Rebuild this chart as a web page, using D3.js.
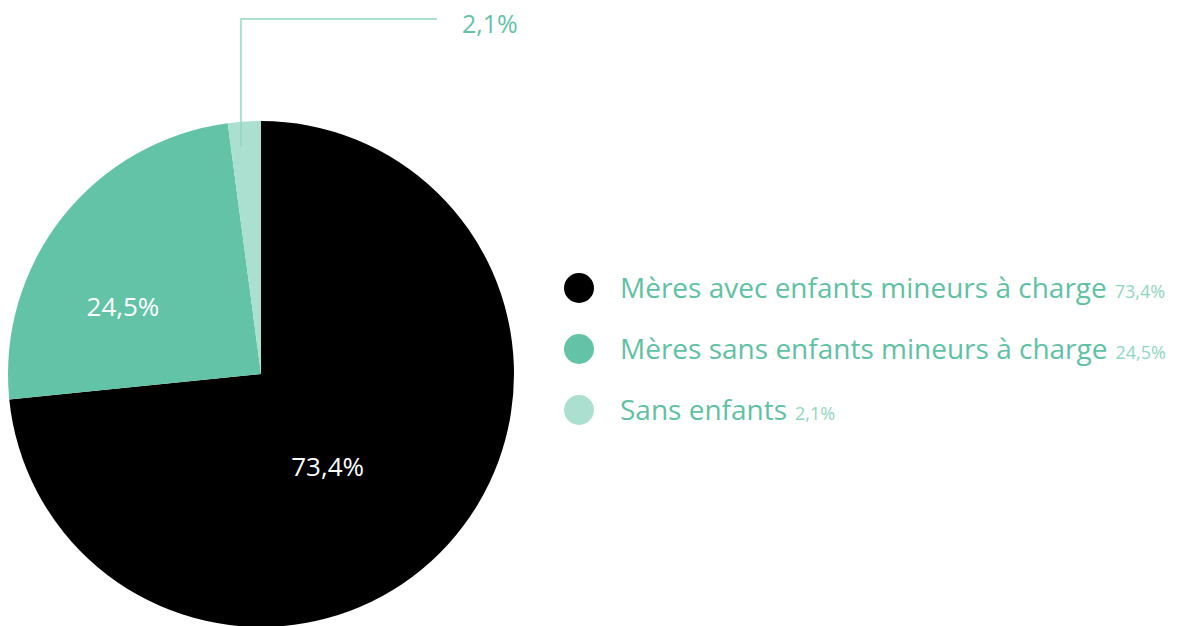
<!DOCTYPE html>
<html lang="fr">
<head>
<meta charset="utf-8">
<script src="https://cdn.jsdelivr.net/npm/d3@7"></script>
<style>
  html, body { margin: 0; padding: 0; background: #fff; }
  svg { display: block; font-family: "Open Sans", "Noto Sans", sans-serif; }
</style>
</head>
<body>
<svg id="chart" width="1181" height="626"></svg>
<script>
// Répartition des femmes selon la situation familiale (%)
const categories = [
  "Mères avec enfants mineurs à charge",
  "Mères sans enfants mineurs à charge",
  "Sans enfants"
];
const values = [73.4, 24.5, 2.1];
const valueLabels = ["73,4%", "24,5%", "2,1%"];
const colors = ["#000000", "#62c3a7", "#abdfcf"];

const W = 1181, H = 626;
const cx = 261, cy = 374, R = 253;

const svg = d3.select("#chart");

const data = categories.map((c, i) => ({ name: c, value: values[i], label: valueLabels[i], color: colors[i] }));

const pie = d3.pie().sort(null).value(d => d.value).startAngle(0).endAngle(2 * Math.PI);
const arcs = pie(data);
const arc = d3.arc().innerRadius(0).outerRadius(R);
const labelArc = d3.arc().innerRadius(R * 0.6).outerRadius(R * 0.6);

const g = svg.append("g").attr("transform", `translate(${cx},${cy})`);

g.selectAll("path.slice")
  .data(arcs)
  .join("path")
  .attr("class", "slice")
  .attr("d", arc)
  .attr("fill", d => d.data.color);

// Inside labels for the two large slices, nudged from the centroid
const nudges = [[-46, 0], [-19, 36]];
g.selectAll("text.inlabel")
  .data(arcs.slice(0, 2))
  .join("text")
  .attr("class", "inlabel")
  .attr("x", (d, i) => labelArc.centroid(d)[0] + nudges[i][0])
  .attr("y", (d, i) => labelArc.centroid(d)[1] + nudges[i][1])
  .attr("text-anchor", "middle")
  .attr("fill", "#ffffff")
  .attr("font-size", 26)
  .text(d => d.data.label);

// Leader line and outside label for the small slice
const small = arcs[2];
const midA = (small.startAngle + small.endAngle) / 2;
const lx = Math.sin(midA) * R * 0.9 - 5;
const ly0 = -Math.cos(midA) * R * 0.9;
const ly1 = 19 - cy;
const lx1 = lx + 196;
g.append("path")
  .attr("d", `M${lx},${ly0}V${ly1}H${lx1}`)
  .attr("fill", "none")
  .attr("stroke", "#8fd6bf")
  .attr("stroke-width", 1.4);
g.append("text")
  .attr("x", lx1 + 25)
  .attr("y", ly1 + 14)
  .attr("fill", "#62c3a7")
  .attr("font-size", 25)
  .text(small.data.label);

// Legend
const legend = svg.append("g").attr("transform", "translate(579,288)");
const rowY = d3.scalePoint().domain(categories).range([0, 122]);
const rows = legend.selectAll("g.row")
  .data(data)
  .join("g")
  .attr("class", "row")
  .attr("transform", d => `translate(0,${rowY(d.name)})`);

rows.append("circle")
  .attr("r", 15)
  .attr("fill", d => d.color);

const txt = rows.append("text")
  .attr("x", 41)
  .attr("y", 10)
  .attr("fill", "#5fc1a3")
  .attr("font-size", 28);
txt.append("tspan").text(d => d.name);
txt.append("tspan")
  .attr("dx", 8)
  .attr("font-size", 18)
  .attr("fill", "#8fd6bf")
  .text(d => d.label);
</script>
</body>
</html>
